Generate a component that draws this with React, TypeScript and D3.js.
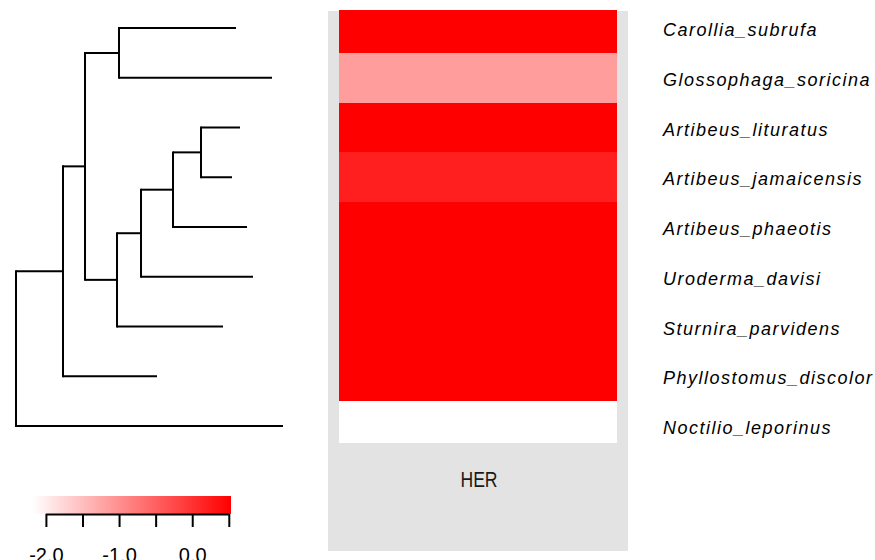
import React, { useEffect, useRef } from "react"
import * as d3 from "d3"

const W = 875
const H = 560

// tips, top to bottom
const species = [
  "Carollia_subrufa",
  "Glossophaga_soricina",
  "Artibeus_lituratus",
  "Artibeus_jamaicensis",
  "Artibeus_phaeotis",
  "Uroderma_davisi",
  "Sturnira_parvidens",
  "Phyllostomus_discolor",
  "Noctilio_leporinus",
]

// HER values (standardised), same order as species
const herValues = [0.53, -1.13, 0.53, 0.2, 0.53, 0.53, 0.53, 0.53, -2.19]

const legendDomain = [-2.19, 0.53]
const legendTicks = [-2, -1.5, -1, -0.5, 0, 0.5]
const legendLabels = [-2, -1, 0]

type Node = { name?: string; len: number; children?: Node[] }

// branch lengths
const tree: Node = {
  len: 0,
  children: [
    {
      len: 0.47,
      children: [
        {
          len: 0.22,
          children: [
            {
              len: 0.34,
              children: [
                { name: "Carollia_subrufa", len: 1.17 },
                { name: "Glossophaga_soricina", len: 1.53 },
              ],
            },
            {
              len: 0.32,
              children: [
                {
                  len: 0.24,
                  children: [
                    {
                      len: 0.32,
                      children: [
                        {
                          len: 0.28,
                          children: [
                            { name: "Artibeus_lituratus", len: 0.39 },
                            { name: "Artibeus_jamaicensis", len: 0.31 },
                          ],
                        },
                        { name: "Artibeus_phaeotis", len: 0.74 },
                      ],
                    },
                    { name: "Uroderma_davisi", len: 1.12 },
                  ],
                },
                { name: "Sturnira_parvidens", len: 1.06 },
              ],
            },
          ],
        },
        { name: "Phyllostomus_discolor", len: 0.94 },
      ],
    },
    { name: "Noctilio_leporinus", len: 2.67 },
  ],
}

const FONT = "Liberation Sans, Arial, sans-serif"

export default function App() {
  const svgRef = useRef<SVGSVGElement | null>(null)

  useEffect(() => {
    const svg = d3.select(svgRef.current)
    svg.selectAll("*").remove()

    const root = d3.hierarchy(tree)
    // cumulative depth
    const depth = new Map<any, number>()
    root.each(n => {
      depth.set(n, (n.parent ? depth.get(n.parent)! : 0) + n.data.len)
    })
    const maxDepth = d3.max(root.leaves(), l => depth.get(l)!)!

    const x = d3.scaleLinear().domain([0, maxDepth]).range([16, 283])
    const yTip = d3.scalePoint<string>().domain(species).range([28, 426])

    const ypos = new Map<any, number>()
    root.eachAfter(n => {
      if (!n.children) ypos.set(n, yTip(n.data.name!)!)
      else {
        const ys = n.children.map(c => ypos.get(c)!)
        ypos.set(n, (d3.min(ys)! + d3.max(ys)!) / 2)
      }
    })

    const gTree = svg.append("g").attr("stroke", "#000").attr("stroke-width", 2).attr("fill", "none")
    root.descendants().forEach(n => {
      if (n.parent) {
        gTree
          .append("line")
          .attr("x1", x(depth.get(n.parent)!))
          .attr("x2", x(depth.get(n)!))
          .attr("y1", ypos.get(n)!)
          .attr("y2", ypos.get(n)!)
      }
      if (n.children) {
        const ys = n.children.map(c => ypos.get(c)!)
        gTree
          .append("line")
          .attr("x1", x(depth.get(n)!))
          .attr("x2", x(depth.get(n)!))
          .attr("y1", d3.min(ys)! - 1)
          .attr("y2", d3.max(ys)! + 1)
      }
    })

    // heatmap
    const color = d3
      .scaleLinear<string>()
      .domain(legendDomain)
      .range(["#ffffff", "#ff0000"])
      .clamp(true)

    svg.append("rect").attr("x", 328).attr("y", 11).attr("width", 300).attr("height", 540).attr("fill", "#e3e3e3")

    // rows centred on the tips, clipped to the panel
    const step = yTip.step()
    const top = 10
    const bottom = 443
    const rowTop = (d: string) => Math.round(Math.max(top, yTip(d)! - step / 2))
    const rowBot = (d: string) => Math.round(Math.min(bottom, yTip(d)! + step / 2))
    svg
      .append("g")
      .attr("shape-rendering", "crispEdges")
      .selectAll("rect")
      .data(species)
      .join("rect")
      .attr("x", 339)
      .attr("width", 278)
      .attr("y", d => rowTop(d))
      .attr("height", d => rowBot(d) - rowTop(d))
      .attr("fill", (d, i) => color(herValues[i]))

    svg
      .append("text")
      .attr("transform", "translate(479,487) scale(0.8,1)")
      .attr("text-anchor", "middle")
      .attr("font-family", FONT)
      .attr("font-size", 22)
      .attr("fill", "#1a1a1a")
      .text("HER")

    // tip labels
    svg
      .append("g")
      .selectAll("text")
      .data(species)
      .join("text")
      .attr("x", 663)
      .attr("y", d => yTip(d)! + 8)
      .attr("font-family", FONT)
      .attr("font-style", "italic")
      .attr("font-size", 18)
      .attr("letter-spacing", 1.5)
      .attr("fill", "#000")
      .text(d => d)

    // legend
    const lx = d3.scaleLinear().domain(legendDomain).range([32, 231])
    const defs = svg.append("defs")
    const grad = defs.append("linearGradient").attr("id", "legGrad").attr("x1", "0%").attr("x2", "100%")
    grad.append("stop").attr("offset", "0%").attr("stop-color", "#ffffff")
    grad.append("stop").attr("offset", "100%").attr("stop-color", "#ff0000")
    svg.append("rect").attr("x", 32).attr("y", 496).attr("width", 199).attr("height", 18).attr("fill", "url(#legGrad)")

    const axis = d3
      .axisBottom(lx)
      .tickValues(legendTicks)
      .tickSize(13)
      .tickSizeOuter(0)
      .tickPadding(21)
      .tickFormat(d => (legendLabels.includes(+d) ? d3.format(".1f")(+d).replace("−", "-") : ""))

    const gAx = svg.append("g").attr("transform", "translate(0,514)").call(axis)
    gAx.select(".domain").attr("d", `M${lx(-2)},0.5H${lx(0.5)}`).attr("stroke", "#000").attr("stroke-width", 2)
    gAx.selectAll(".tick line").attr("stroke", "#000").attr("stroke-width", 2)
    gAx
      .selectAll(".tick text")
      .attr("font-family", FONT)
      .attr("font-size", 20)
      .attr("fill", "#000")
  }, [])

  return (
    <div style={{ position: "fixed", left: 0, top: 0 }}>
      <svg ref={svgRef} width={W} height={H} style={{ display: "block", background: "#fff" }} />
    </div>
  )
}
